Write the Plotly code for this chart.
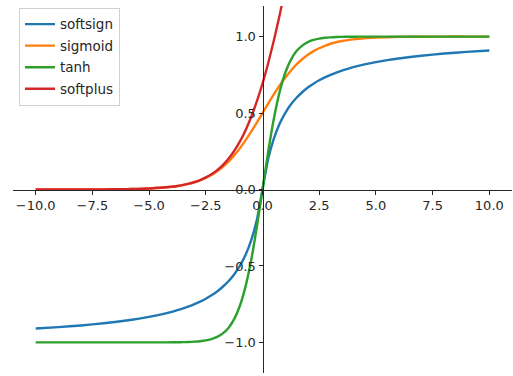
import plotly.graph_objects as go

x = [-10, -9, -8, -7, -6, -5.5, -5, -4.5, -4, -3.75, -3.5, -3.25, -3, -2.75, -2.5, -2.25, -2,
     -1.75, -1.5, -1.25, -1, -0.75, -0.5, -0.25, 0, 0.25, 0.5, 0.75, 1, 1.25, 1.5, 1.75, 2,
     2.25, 2.5, 2.75, 3, 3.25, 3.5, 3.75, 4, 4.5, 5, 5.5, 6, 7, 8, 9, 10]

softsign = [-0.909, -0.9, -0.889, -0.875, -0.857, -0.846, -0.833, -0.818, -0.8, -0.789, -0.778,
            -0.765, -0.75, -0.733, -0.714, -0.692, -0.667, -0.636, -0.6, -0.556, -0.5, -0.429,
            -0.333, -0.2, 0.0, 0.2, 0.333, 0.429, 0.5, 0.556, 0.6, 0.636, 0.667, 0.692, 0.714,
            0.733, 0.75, 0.765, 0.778, 0.789, 0.8, 0.818, 0.833, 0.846, 0.857, 0.875, 0.889,
            0.9, 0.909]

sigmoid = [0.00005, 0.0001, 0.0003, 0.0009, 0.0025, 0.0041, 0.0067, 0.011, 0.018, 0.023, 0.029,
           0.037, 0.047, 0.060, 0.076, 0.095, 0.119, 0.148, 0.182, 0.223, 0.269, 0.321, 0.378,
           0.438, 0.5, 0.562, 0.622, 0.679, 0.731, 0.777, 0.818, 0.852, 0.881, 0.905, 0.924,
           0.940, 0.953, 0.963, 0.971, 0.977, 0.982, 0.989, 0.993, 0.996, 0.998, 0.999, 1.0,
           1.0, 1.0]

tanh = [-1.0, -1.0, -1.0, -1.0, -1.0, -1.0, -0.9999, -0.9998, -0.9993, -0.9989, -0.998, -0.997,
        -0.995, -0.992, -0.987, -0.978, -0.964, -0.941, -0.905, -0.848, -0.762, -0.635, -0.462,
        -0.245, 0.0, 0.245, 0.462, 0.635, 0.762, 0.848, 0.905, 0.941, 0.964, 0.978, 0.987,
        0.992, 0.995, 0.997, 0.998, 0.9989, 0.9993, 0.9998, 0.9999, 1.0, 1.0, 1.0, 1.0, 1.0, 1.0]

softplus = [0.00005, 0.0001, 0.0003, 0.0009, 0.0025, 0.0041, 0.0067, 0.011, 0.018, 0.023, 0.030,
            0.038, 0.049, 0.062, 0.079, 0.100, 0.127, 0.160, 0.201, 0.252, 0.313, 0.386, 0.474,
            0.576, 0.693, 0.826, 0.974, 1.136, 1.313, 1.502, 1.701, 1.909, 2.127, 2.351, 2.579,
            2.811, 3.049, 3.288, 3.530, 3.773, 4.018, 4.511, 5.007, 5.504, 6.002, 7.001, 8.0,
            9.0, 10.0]

series = [("softsign", softsign, "#1f77b4"), ("sigmoid", sigmoid, "#ff7f0e"),
          ("tanh", tanh, "#2ca02c"), ("softplus", softplus, "#d62728")]

xticks = [-10, -7.5, -5, -2.5, 0, 2.5, 5, 7.5, 10]
xtick_text = ["\u221210.0", "\u22127.5", "\u22125.0", "\u22122.5", "0.0", "2.5", "5.0", "7.5", "10.0"]
yticks = [-1.0, -0.5, 0.0, 0.5, 1.0]
ytick_text = ["\u22121.0", "\u22120.5", "0.0", "0.5", "1.0"]

fig = go.Figure()
for name, vals, color in series:
    fig.add_trace(go.Scatter(x=x, y=vals, mode="lines", name=name, legendgroup=name,
                             line=dict(color=color, width=2.4, shape="spline", smoothing=0.6)))

font = dict(family="DejaVu Sans", size=13, color="#262626")
fig.update_layout(
    width=513, height=376,
    margin=dict(l=13, r=1, t=6, b=3),
    paper_bgcolor="white", plot_bgcolor="white",
    font=font,
    showlegend=True,
    legend=dict(x=0.012, y=0.995, xanchor="left", yanchor="top",
                bgcolor="rgba(255,255,255,0.8)", bordercolor="#d0d0d0", borderwidth=1,
                font=dict(family="DejaVu Sans", size=13.5, color="#262626"),
                itemwidth=30, tracegroupgap=1),
    xaxis=dict(range=[-11, 11], anchor="free", position=0.5, showline=True,
               linecolor="#262626", linewidth=1, ticks="outside", ticklen=4,
               tickcolor="#262626", tickvals=xticks, ticktext=xtick_text,
               showgrid=False, zeroline=False, tickfont=font),
    yaxis=dict(range=[-1.2, 1.2], anchor="free", position=0.5, showline=True,
               linecolor="#262626", linewidth=1, ticks="outside", ticklen=4,
               tickcolor="#262626", tickvals=yticks, ticktext=ytick_text,
               showgrid=False, zeroline=False, tickfont=font),
)

fig.write_html("out.html")
